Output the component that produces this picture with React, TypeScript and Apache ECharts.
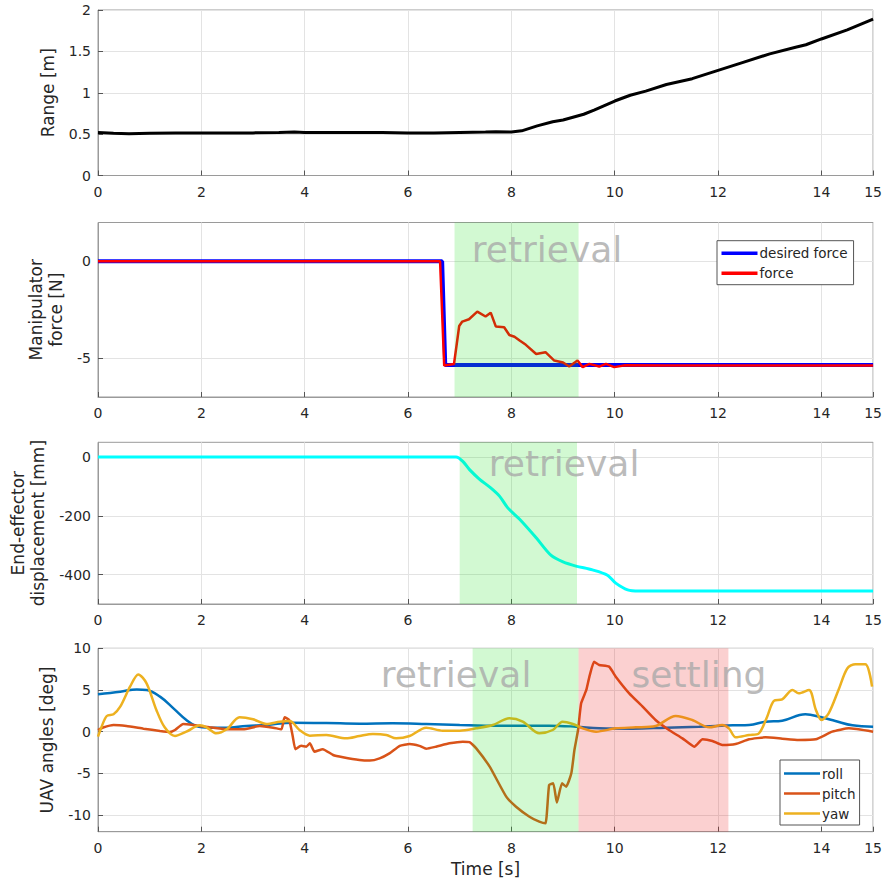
import React, { useEffect, useRef } from "react";
import * as echarts from "echarts";

// ---------- Data ----------
const xTicks = [0, 2, 4, 6, 8, 10, 12, 14, 15];

// Range [m]
const rangeT = [0, 0.3, 0.6, 1, 1.5, 2, 2.5, 3, 3.5, 3.8, 4, 4.5, 5, 5.5, 6, 6.5, 7, 7.5, 7.7, 8, 8.2, 8.5, 8.8, 9, 9.4, 9.6, 10, 10.3, 10.6, 11, 11.5, 12, 12.5, 13, 13.5, 13.7, 14, 14.5, 15];
const rangeV = [0.52, 0.51, 0.505, 0.51, 0.515, 0.515, 0.515, 0.515, 0.52, 0.525, 0.52, 0.52, 0.52, 0.52, 0.515, 0.515, 0.52, 0.525, 0.53, 0.525, 0.54, 0.6, 0.65, 0.67, 0.74, 0.79, 0.9, 0.97, 1.02, 1.1, 1.17, 1.27, 1.37, 1.47, 1.55, 1.58, 1.65, 1.76, 1.89];

// Manipulator force [N]
const desiredT = [0, 6.66, 6.72, 15];
const desiredV = [0, 0, -5.35, -5.35];
const forceT = [0, 6.62, 6.7, 6.89, 6.99, 7.05, 7.18, 7.34, 7.5, 7.6, 7.7, 7.86, 7.96, 8.06, 8.16, 8.28, 8.48, 8.66, 8.83, 9.0, 9.12, 9.28, 9.38, 9.51, 9.7, 9.83, 9.99, 10.2, 11, 15];
const forceV = [0, 0, -5.38, -5.3, -3.34, -3.11, -2.99, -2.6, -2.85, -2.65, -3.37, -3.4, -3.8, -3.89, -4.09, -4.31, -4.78, -4.69, -5.12, -5.22, -5.43, -5.12, -5.46, -5.29, -5.43, -5.29, -5.46, -5.36, -5.38, -5.38];

// End-effector displacement [mm]
const dispT = [0, 6.93, 7.06, 7.19, 7.38, 7.6, 7.77, 7.93, 8.16, 8.48, 8.77, 9.0, 9.25, 9.57, 9.86, 10.02, 10.25, 10.47, 15];
const dispV = [0, 0, -15, -43, -75, -105, -133, -173, -212, -275, -335, -357, -371, -384, -402, -429, -452, -456, -456];

// UAV angles [deg]
const rollT = [0, 0.43, 0.75, 0.94, 1.2, 1.46, 1.71, 1.9, 2.16, 2.49, 2.87, 3.26, 3.77, 4.42, 5.06, 5.7, 6.35, 7.0, 7.5, 8.09, 8.73, 9.25, 9.7, 10.34, 10.99, 11.63, 12.28, 12.6, 12.92, 13.24, 13.69, 14.0, 14.27, 14.6, 15];
const rollV = [4.5, 4.8, 5.07, 5.0, 4.2, 2.8, 1.4, 0.68, 0.48, 0.48, 0.68, 0.8, 1.08, 1.04, 0.96, 1.0, 0.92, 0.8, 0.72, 0.72, 0.72, 0.6, 0.4, 0.36, 0.48, 0.6, 0.76, 0.8, 1.2, 1.32, 2.1, 1.72, 1.28, 0.76, 0.6];

const pitchT = [0, 0.1, 0.3, 0.55, 0.88, 1.2, 1.39, 1.49, 1.65, 1.84, 2.16, 2.49, 2.81, 3.13, 3.39, 3.55, 3.61, 3.7, 3.77, 3.82, 3.93, 4.03, 4.1, 4.19, 4.35, 4.55, 4.74, 5.06, 5.26, 5.45, 5.64, 5.84, 6.03, 6.22, 6.35, 6.54, 6.8, 7.06, 7.19, 7.32, 7.58, 7.9, 8.09, 8.35, 8.54, 8.66, 8.73, 8.81, 8.88, 8.98, 9.06, 9.16, 9.22, 9.29, 9.35, 9.45, 9.51, 9.6, 9.7, 9.89, 10.02, 10.28, 10.54, 10.79, 11.05, 11.31, 11.54, 11.7, 11.89, 12.08, 12.34, 12.6, 12.92, 13.24, 13.56, 13.89, 14.21, 14.53, 15];
const pitchV = [0.2, 0.5, 0.8, 0.68, 0.36, 0.08, -0.04, 0.2, 0.92, 0.8, 0.52, 0.28, 0.28, 0.68, 0.48, 0.28, 1.72, 1.4, -0.6, -2.1, -1.7, -1.8, -1.4, -2.4, -2.1, -2.8, -3.07, -3.4, -3.47, -3.2, -2.6, -1.7, -1.48, -1.7, -2.04, -1.8, -1.4, -1.2, -1.25, -2.0, -4.2, -7.8, -9.0, -10.2, -10.8, -11.0, -6.4, -6.2, -8.5, -6.2, -6.6, -5.0, -2.2, 0.2, 3.4, 5.0, 6.6, 8.38, 8.0, 7.8, 6.6, 4.6, 3.0, 1.4, 0.2, -0.8, -1.8, -0.92, -1.12, -1.6, -1.48, -0.92, -0.68, -0.84, -1.0, -0.92, 0, 0.4, 0];

const yawT = [0, 0.07, 0.17, 0.3, 0.43, 0.62, 0.78, 0.94, 1.13, 1.29, 1.49, 1.71, 1.97, 2.1, 2.29, 2.49, 2.74, 3.0, 3.26, 3.52, 3.71, 3.9, 4.1, 4.42, 4.8, 5.06, 5.32, 5.58, 5.77, 6.03, 6.35, 6.67, 7.0, 7.32, 7.64, 7.96, 8.22, 8.54, 8.8, 8.99, 9.19, 9.38, 9.64, 10.02, 10.41, 10.79, 11.18, 11.5, 11.83, 12.08, 12.21, 12.34, 12.6, 12.79, 12.95, 13.08, 13.24, 13.44, 13.56, 13.76, 13.89, 14.0, 14.14, 14.33, 14.5, 14.66, 14.85, 14.98];
const yawV = [-0.6, 0.6, 1.88, 2.1, 3.0, 5.4, 6.87, 5.8, 2.6, 0.52, -0.52, 0, 0.76, 0.52, -0.2, 0.28, 1.72, 1.48, 0.92, 1.2, 1.28, 0.2, -0.48, -0.4, -0.8, -0.52, -0.28, -0.4, -0.8, -0.52, 0.48, 0.12, 0.12, 0.4, 0.8, 1.6, 1.2, -0.2, 0.2, 1.2, 0.92, 0.4, 0, 0.4, 0.52, 0.68, 1.88, 1.4, 0.52, 0.8, 0.4, -0.68, -0.4, -0.2, 1.8, 3.7, 3.87, 5.0, 4.6, 5.0, 2.67, 1.4, 2.2, 5.0, 7.58, 8.1, 8.1, 5.4];

// Shaded phases: [plot index, start, end, kind]
const phasePlots = [1, 2, 3, 3];
const phaseStart = [6.9, 7.0, 7.25, 9.3];
const phaseEnd = [9.3, 9.27, 9.3, 12.2];
const phaseKind = ["retrieval", "retrieval", "retrieval", "settling"];

// Phase labels (data coordinates)
const labelPlots = [1, 2, 3, 3];
const labelX = [8.69, 9.02, 6.93, 11.63];
const labelY = [0.63, -21, 6.9, 6.9];
const labelText = ["retrieval", "retrieval", "retrieval", "settling"];

// Axis ticks
const yTicks = [
  [0, 0.5, 1, 1.5, 2],
  [-5, 0],
  [-400, -200, 0],
  [-10, -5, 0, 5, 10],
];
const yMin = [0, -7, -500, -12];
const yMax = [2, 2, 50, 10];
const yNames = ["Range [m]", "Manipulator\nforce [N]", "End-effector\ndisplacement [mm]", "UAV angles [deg]"];

const zip = (t: number[], v: number[]) => t.map((x, i) => [x, v[i]]);

const FONT = "DejaVu Sans";
const TXT = "#262626";

export default function App() {
  const ref = useRef<HTMLDivElement>(null);
  useEffect(() => {
    const chart = echarts.init(ref.current!, null, { renderer: "svg" });

    const gridPos = [
      { top: 10, height: 165.5 },
      { top: 222.5, height: 174.5 },
      { top: 442.3, height: 161.7 },
      { top: 648.3, height: 183.4 },
    ];
    const nameGaps = [32, 31, 48, 31];

    const grid = gridPos.map((g) => ({
      left: 98,
      width: 776,
      top: g.top,
      height: g.height,
      show: true,
      borderColor: "#9a9a9a",
      borderWidth: 1,
      backgroundColor: "transparent",
      containLabel: false,
    }));

    const xAxis = gridPos.map((_, i) => ({
      type: "value",
      gridIndex: i,
      min: 0,
      max: 15,
      name: i === 3 ? "Time [s]" : "",
      nameLocation: "middle",
      nameGap: 29,
      nameTextStyle: { fontFamily: FONT, fontSize: 17, color: TXT },
      axisLine: { show: true, onZero: false, lineStyle: { color: "#9a9a9a", width: 1 } },
      axisTick: { show: true, inside: true, length: 5, customValues: xTicks, lineStyle: { color: "#555" } },
      axisLabel: { customValues: xTicks, fontFamily: FONT, fontSize: 14, color: TXT, margin: 9 },
      splitLine: { show: true, lineStyle: { color: "#e3e3e3", width: 1 } },
    }));

    const yAxis = gridPos.map((_, i) => ({
      type: "value",
      gridIndex: i,
      min: yMin[i],
      max: yMax[i],
      name: yNames[i],
      nameLocation: "middle",
      nameGap: nameGaps[i],
      nameTextStyle: { fontFamily: FONT, fontSize: 17, color: TXT, lineHeight: 20 },
      axisLine: { show: true, onZero: false, lineStyle: { color: "#9a9a9a", width: 1 } },
      axisTick: { show: true, inside: true, length: 5, customValues: yTicks[i], lineStyle: { color: "#555" } },
      axisLabel: { customValues: yTicks[i], fontFamily: FONT, fontSize: 14, color: TXT, margin: 7 },
      splitLine: { show: true, lineStyle: { color: "#e3e3e3", width: 1 } },
    }));

    const lineSeries = (name: string, idx: number, data: number[][], color: string, width: number, smooth: number | boolean) => ({
      type: "line",
      name,
      xAxisIndex: idx,
      yAxisIndex: idx,
      data,
      showSymbol: false,
      symbol: "none",
      smooth,
      z: 2,
      lineStyle: { color, width },
      itemStyle: { color },
      emphasis: { disabled: true },
    });

    const series: any[] = [
      lineSeries("range", 0, zip(rangeT, rangeV), "#000000", 3, false),
      lineSeries("desired force", 1, zip(desiredT, desiredV), "#0000ff", 4, false),
      lineSeries("force", 1, zip(forceT, forceV), "#ff0000", 2.5, false),
      lineSeries("displacement", 2, zip(dispT, dispV), "#00ffff", 3, 0.3),
      lineSeries("roll", 3, zip(rollT, rollV), "#0072BD", 2.5, 0.4),
      lineSeries("pitch", 3, zip(pitchT, pitchV), "#D95319", 2.5, 0.15),
      lineSeries("yaw", 3, zip(yawT, yawV), "#EDB120", 2.5, 0.3),
    ];

    phasePlots.forEach((p, k) => {
      series.push({
        type: "line",
        name: "phase" + k,
        xAxisIndex: p,
        yAxisIndex: p,
        data: [],
        silent: true,
        z: 3,
        markArea: {
          silent: true,
          z: 3,
          itemStyle: {
            color: phaseKind[k] === "retrieval" ? "rgba(30,225,30,0.2)" : "rgba(235,20,20,0.2)",
          },
          data: [[{ xAxis: phaseStart[k] }, { xAxis: phaseEnd[k] }]],
        },
      });
    });

    labelPlots.forEach((p, k) => {
      series.push({
        type: "scatter",
        name: "label" + k,
        xAxisIndex: p,
        yAxisIndex: p,
        data: [[labelX[k], labelY[k]]],
        symbolSize: 1,
        itemStyle: { color: "rgba(0,0,0,0)" },
        silent: true,
        z: 4,
        label: {
          show: true,
          position: "inside",
          formatter: labelText[k],
          fontFamily: FONT,
          fontSize: 36,
          color: "#a9a9a9",
        },
      });
    });

    const legendCommon = {
      orient: "vertical",
      icon: "rect",
      itemWidth: 36,
      itemGap: 4,
      borderColor: "#555",
      borderWidth: 1,
      backgroundColor: "#ffffff",
      borderRadius: 0,
      z: 20,
      selectedMode: false,
      textStyle: { fontFamily: FONT, fontSize: 13.5, color: TXT, padding: [0, 0, 0, -3], lineHeight: 16 },
    };

    const option: any = {
      animation: false,
      backgroundColor: "#ffffff",
      grid,
      xAxis,
      yAxis,
      legend: [
        { ...legendCommon, itemHeight: 3.5, data: ["desired force", "force"], left: 717, top: 240.7, padding: [4.5, 6, 3.5, 4.5] },
        { ...legendCommon, itemHeight: 2.5, data: ["roll", "pitch", "yaw"], left: 780, top: 760, padding: [5.5, 4, 3.5, 4] },
      ],
      series,
    };

    chart.setOption(option);
    return () => chart.dispose();
  }, []);

  return (
    <div
      ref={ref}
      style={{ position: "fixed", left: 0, top: 0, width: 885, height: 888, background: "#fff" }}
    />
  );
}
